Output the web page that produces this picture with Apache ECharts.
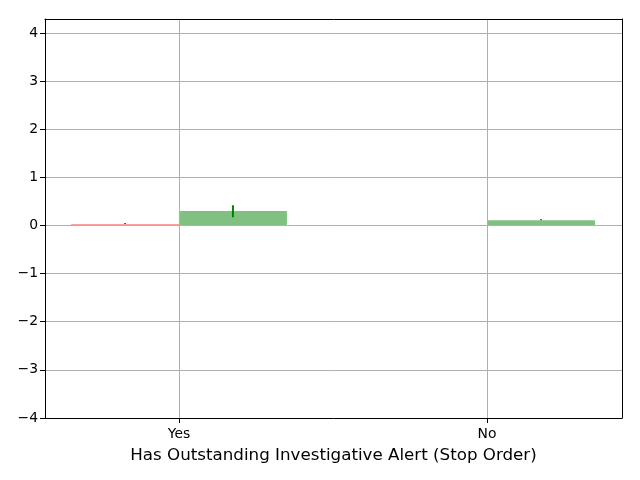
<!DOCTYPE html>
<html><head><meta charset="utf-8">
<script src="https://cdn.jsdelivr.net/npm/echarts@6/dist/echarts.min.js"></script>
<style>html,body{margin:0;padding:0;background:#fff}#c{width:640px;height:480px}</style>
</head><body><div id="c"></div>
<script>
const categories = ['Yes', 'No'];
const redValues = [0.025, null];
const redErrLow = [0.03, null];
const redErrHigh = [0.05, null];
const greenValues = [0.30, 0.11];
const greenErrLow = [0.17, 0.11];
const greenErrHigh = [0.42, 0.13];
const yTicks = [-4, -3, -2, -1, 0, 1, 2, 3, 4];
const offset = 0.175;

const font = 'DejaVu Sans';
function barData(vals, sh) {
  return vals.map((v, i) => v == null ? null : [i + sh, v]);
}
function errData(lo, hi, sh) {
  const out = [];
  lo.forEach((l, i) => { if (l != null) out.push([i + sh, l, hi[i]]); });
  return out;
}
function errSeries(data, color) {
  return {
    type: 'custom', z: 5, data: data,
    renderItem: function (params, api) {
      const a = api.coord([api.value(0), api.value(1)]);
      const b = api.coord([api.value(0), api.value(2)]);
      return { type: 'line', shape: { x1: a[0], y1: a[1], x2: b[0], y2: Math.min(b[1], a[1] - 1) },
        style: { stroke: color, lineWidth: 2 } };
    }
  };
}
const spine = { show: true, onZero: false, lineStyle: { color: '#000', width: 1 } };
const chart = echarts.init(document.getElementById('c'));
chart.setOption({
  animation: false,
  grid: { left: 45, right: 18, top: 19, bottom: 62 },
  xAxis: [{
    type: 'value', min: -0.435, max: 1.438, z: 10,
    name: 'Has Outstanding Investigative Alert (Stop Order)',
    nameLocation: 'middle', nameGap: 29,
    nameTextStyle: { fontFamily: font, fontSize: 16.7, color: '#000' },
    axisLine: spine,
    axisTick: { show: true, length: 5, customValues: [0, 1], lineStyle: { color: '#000' } },
    axisLabel: { customValues: [0, 1], fontFamily: font, fontSize: 13.9, color: '#000', margin: 9,
      formatter: v => categories[Math.round(v)] },
    splitLine: { show: false }
  }, {
    type: 'value', position: 'top', min: -0.435, max: 1.438, z: 10,
    axisLine: spine, axisTick: { show: false }, axisLabel: { show: false }, splitLine: { show: false }
  }],
  yAxis: [{
    type: 'value', min: -4, max: 4.29, z: 10,
    axisLine: spine,
    axisTick: { show: true, length: 5, customValues: yTicks, lineStyle: { color: '#000' } },
    axisLabel: { customValues: yTicks, fontFamily: font, fontSize: 13.9, color: '#000', margin: 7,
      formatter: v => String(v).replace('-', '\u2212') },
    splitLine: { show: false }
  }, {
    type: 'value', position: 'right', min: -4, max: 4.29, z: 10,
    axisLine: spine, axisTick: { show: false }, axisLabel: { show: false }, splitLine: { show: false }
  }],
  series: [
    {
      type: 'line', data: [], silent: true,
      markLine: {
        silent: true, symbol: 'none', label: { show: false }, animation: false,
        lineStyle: { color: '#b0b0b0', width: 1, type: 'solid' },
        data: yTicks.filter(v => v > -4).map(v => ({ yAxis: v })).concat([0, 1].map(v => ({ xAxis: v })))
      }
    },
    { type: 'bar', data: barData(redValues, -offset), barWidth: 108, itemStyle: { color: '#ff8080' }, z: 3 },
    { type: 'bar', data: barData(greenValues, offset), barWidth: 108, barGap: '-100%', itemStyle: { color: '#80c080' }, z: 3 },
    errSeries(errData(redErrLow, redErrHigh, -offset), '#ff0000'),
    errSeries(errData(greenErrLow, greenErrHigh, offset), '#008000')
  ]
});
</script></body></html>
